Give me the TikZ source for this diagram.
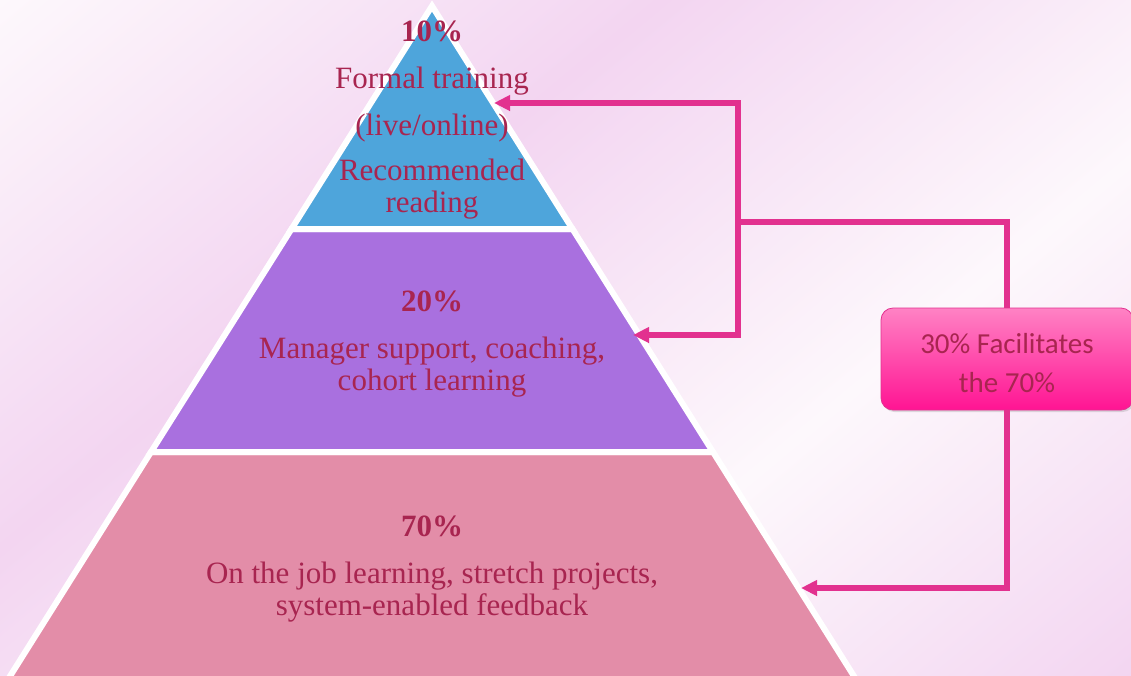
\documentclass[tikz,border=0pt]{standalone}
\usepackage{fontspec}
\setmainfont{Liberation Serif}
\newfontfamily\boxfont{Carlito}
\usetikzlibrary{arrows.meta,positioning,shadows}
\definecolor{bgwhite}{HTML}{FDF8FC}
\definecolor{bglilac}{HTML}{F3D5F1}
\definecolor{tierblue}{HTML}{4EA5DB}
\definecolor{tierpurple}{HTML}{A970DF}
\definecolor{tierpink}{HTML}{E38DA8}
\definecolor{textred}{HTML}{A82550}
\definecolor{linkpink}{HTML}{E2318F}
\definecolor{boxtop}{HTML}{FF82C4}
\definecolor{boxbottom}{HTML}{FF1493}
\pgfdeclarehorizontalshading{bgshade}{100bp}{color(0bp)=(bgwhite); color(25bp)=(bgwhite); color(42bp)=(bglilac); color(59bp)=(bgwhite); color(75bp)=(bglilac); color(100bp)=(bglilac)}
\tikzset{
  tier/.style={
    draw=white,
    line width=6pt,
    line join=miter
  },
  tiertext/.style={
    align=center,
    text=textred,
    inner sep=0pt,
    anchor=north,
    font=\fontsize{31}{32}\selectfont
  },
  facbox/.style={
    rectangle,
    rounded corners=12pt,
    draw=linkpink,
    line width=0.8pt,
    top color=boxtop,
    bottom color=boxbottom,
    minimum width=252pt,
    minimum height=102pt,
    align=center,
    text=textred,
    font=\boxfont\fontsize{29}{39}\selectfont,
    drop shadow={opacity=0.25, shadow xshift=1.5pt, shadow yshift=-2pt}
  },
  link/.style={
    draw=linkpink,
    line width=6pt
  },
  arrow/.style={
    link,
    -{Triangle[length=16pt,width=15pt]}
  }
}

\begin{document}
\begin{tikzpicture}[x=1pt, y=-1pt]
  \useasboundingbox (0,0) rectangle (1131,675);
  \begin{scope}
    \clip (0,0) rectangle (1131,675);
    \begin{scope}[transform canvas={rotate=-50.3}]
      \shade[shading=bgshade] (0pt,-440pt) rectangle (1244pt,880pt);
    \end{scope}

    \draw[tier, fill=tierpink] (151,452) -- (713,452) -- (857,681) -- (7,681) -- cycle;
    \draw[tier, fill=tierpurple] (291.5,229) -- (572.5,229) -- (713,452) -- (151,452) -- cycle;
    \draw[tier, fill=tierblue] (432,6) -- (572.5,229) -- (291.5,229) -- cycle;
  \end{scope}

  \node[tiertext] (tiertop) at (432,18.6) {\strut\textbf{10\%}\\[15pt]Formal training\\[15pt](live/online)\\[13pt]Recommended\\reading};
  \node[tiertext] (tiermid) at (432,288.6) {\strut\textbf{20\%}\\[15pt]Manager support, coaching,\\cohort learning};
  \node[tiertext] (tierbase) at (432,513.6) {\strut\textbf{70\%}\\[15pt]On the job learning, stretch projects,\\system-enabled feedback};

  \node[facbox] (fac) at (1007,359) {\rule{0pt}{28pt}30\% Facilitates\\the 70\%};

  \coordinate (junc) at (738,222);
  \coordinate (topin) at (494,103);
  \coordinate (midin) at (633,335);
  \coordinate (botin) at (801,588);

  \draw[link] (fac.north) |- (junc);
  \draw[arrow] (junc) |- (topin);
  \draw[arrow] (junc) |- (midin);
  \draw[arrow] (fac.south) |- (botin);
\end{tikzpicture}
\end{document}
